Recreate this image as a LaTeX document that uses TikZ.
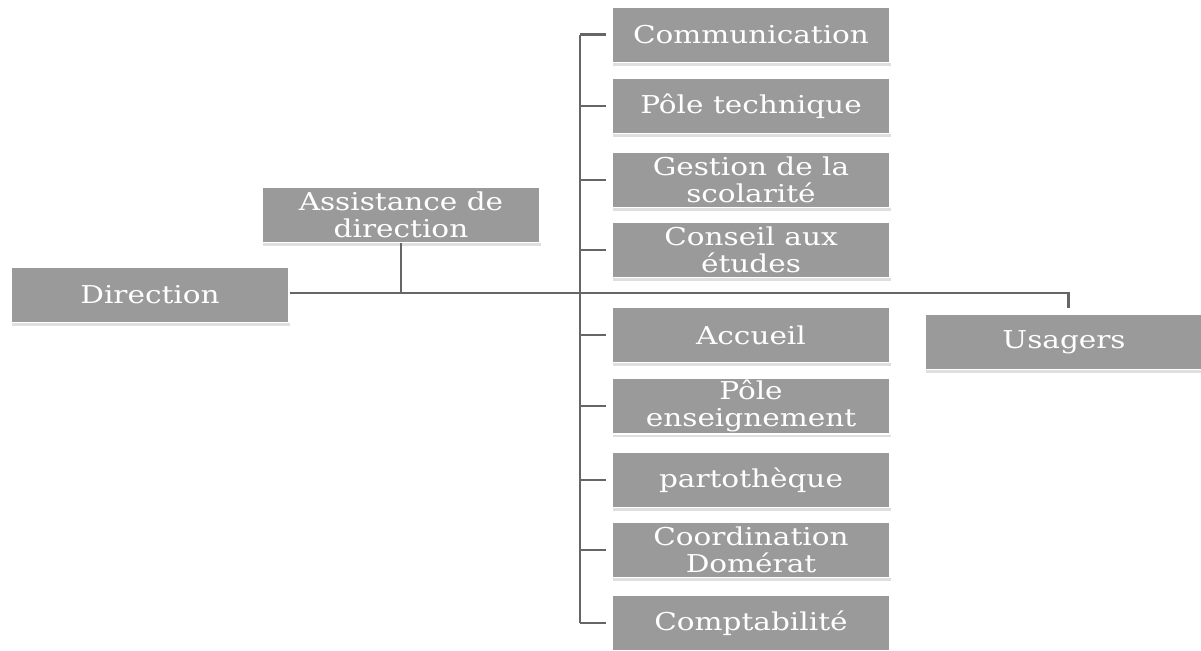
\documentclass[tikz,border=0pt]{standalone}
\usepackage{fontspec}
\setmainfont[FakeStretch=1.2]{DejaVu Serif}
\usetikzlibrary{shadows}
\definecolor{boxgray}{HTML}{9A9A9A}
\definecolor{linegray}{HTML}{666666}
\tikzset{
  unit/.style={rectangle, fill=boxgray, draw=white, line width=1pt,
    minimum width=5.56cm, minimum height=1.1cm, inner sep=1pt,
    text=white, align=center, font=\fontsize{14}{15.5}\selectfont,
    drop shadow={shadow xshift=0.02cm, shadow yshift=-0.07cm, opacity=0.25}},
  link/.style={draw=linegray, line width=1.7pt}
}
\begin{document}
\begin{tikzpicture}[x=0.02cm,y=-0.02cm]
\useasboundingbox (0,0) rectangle (1201,651);
\node[unit] (dir) at (150,295) {Direction};
\node[unit] (asst) at (401,215) {Assistance de\\direction};
\node[unit] (usa) at (1064,342) {Usagers};
\node[unit] (com) at (751,35) {Communication};
\node[unit] (tech) at (751,106) {Pôle technique};
\node[unit] (ges) at (751,180) {Gestion de la\\scolarité};
\node[unit] (cons) at (751,250) {Conseil aux\\études};
\node[unit] (acc) at (751,335) {Accueil};
\node[unit] (ens) at (751,406) {Pôle\\enseignement};
\node[unit] (part) at (751,480) {partothèque};
\node[unit] (coord) at (751,550) {Coordination\\Domérat};
\node[unit] (compt) at (751,623) {Comptabilité};
\coordinate (top) at (580,35);
\coordinate (bot) at (580,623);
\coordinate (junc) at (401,293);
\coordinate (ujunc) at (1068,293);
\coordinate (uend) at (1068,308);
% main horizontal line
\draw[link] (dir.east |- junc) -- (ujunc) -- (uend);
\draw[link] (asst.south) -- (junc);
% trunk
\draw[link] (top) -- (bot);
\foreach \n in {com,tech,ges,cons,acc,ens,part,coord,compt}{
  \draw[link, shorten >=3pt] (\n.west -| top) -- (\n.west);
}
\end{tikzpicture}
\end{document}
